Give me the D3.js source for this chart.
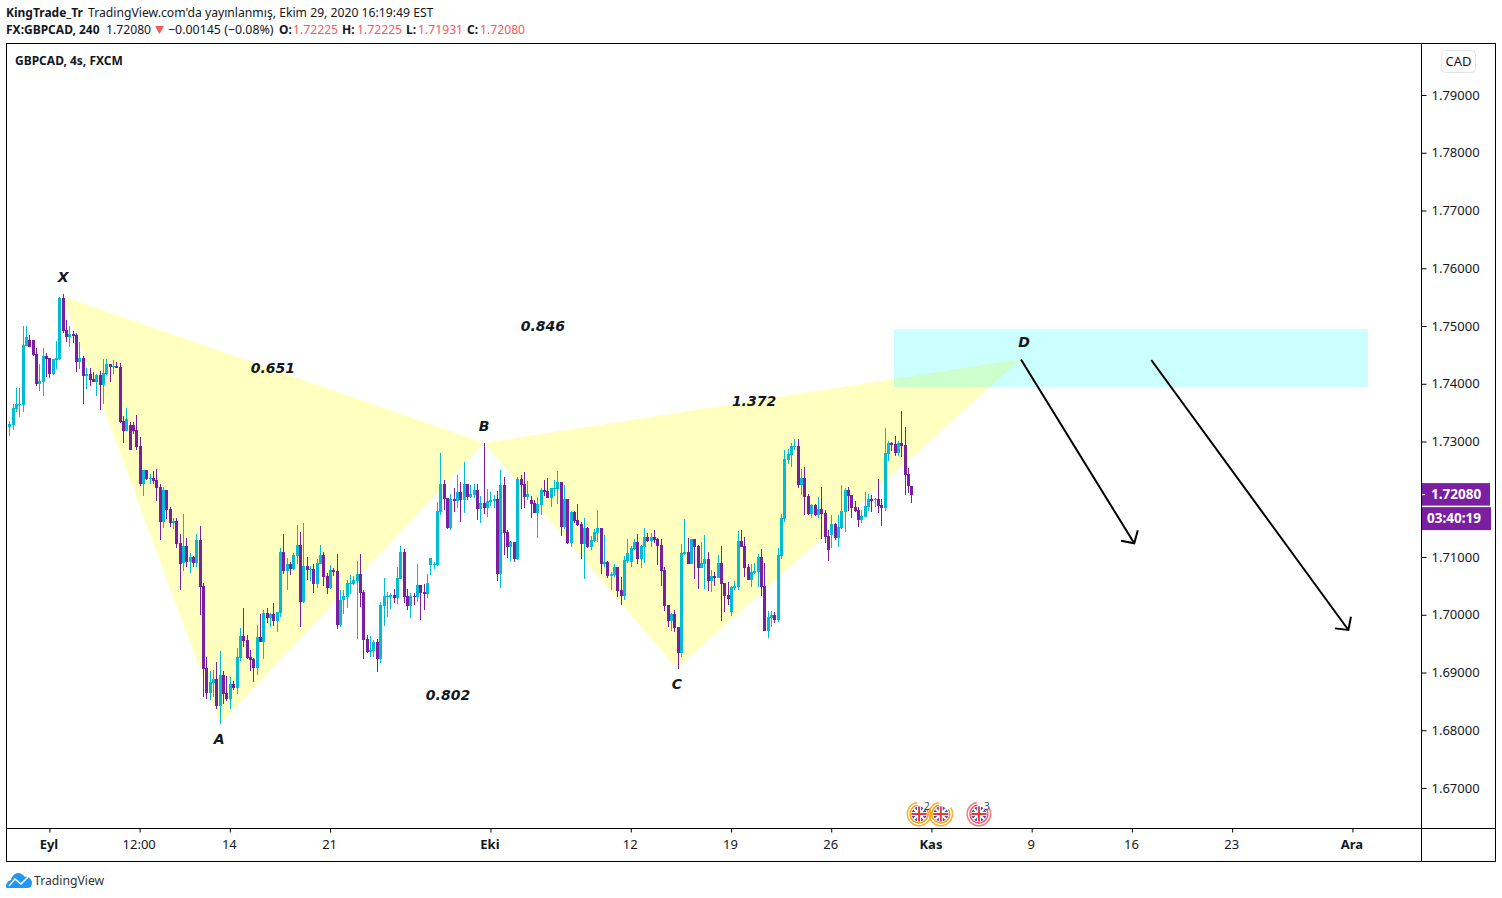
<!DOCTYPE html>
<html>
<head>
<meta charset="utf-8">
<title>GBPCAD</title>
<script src="https://cdn.jsdelivr.net/npm/d3@7"></script>
<style>
body { margin: 0; background: #fff; }
text { font-family: "Noto Sans", sans-serif; fill: #131722; }
.axis text { font-size: 13px; }
.axis path, .axis line { stroke: #000; }
.note { font-family: "DejaVu Sans", sans-serif; font-weight: bold; font-style: italic; font-size: 14px; text-anchor: middle; dominant-baseline: central; }
</style>
</head>
<body>
<svg id="chart" width="1502" height="898"></svg>
<script>
const opens = [
1.7325,1.7329,1.7356,1.7363,1.7363,1.7465,1.7476,1.7476,1.7452,1.7400,
1.7403,1.7448,1.7445,1.7417,1.7441,1.7443,1.7548,1.7493,1.7481,1.7486,
1.7484,1.7438,1.7445,1.7413,1.7417,1.7408,1.7403,1.7415,1.7398,1.7417,
1.7434,1.7429,1.7431,1.7429,1.7336,1.7318,1.7329,1.7329,1.7320,1.7292,
1.7227,1.7251,1.7235,1.7237,1.7233,1.7221,1.7161,1.7216,1.7183,1.7159,
1.7162,1.7124,1.7090,1.7119,1.7091,1.7100,1.7090,1.7130,1.7050,1.6908,
1.6865,1.6882,1.6889,1.6842,1.6896,1.6865,1.6854,1.6880,1.6873,1.6925,
1.6963,1.6956,1.6927,1.6923,1.6908,1.6962,1.6953,1.7003,1.6994,1.7001,
1.6989,1.7003,1.7109,1.7076,1.7088,1.7079,1.7102,1.7121,1.7022,1.7085,
1.7078,1.7079,1.7053,1.7088,1.7104,1.7067,1.7046,1.7078,1.7076,1.6982,
1.7026,1.7031,1.7053,1.7053,1.7059,1.7071,1.7039,1.6958,1.6936,1.6937,
1.6953,1.6924,1.7015,1.7031,1.7031,1.7034,1.7029,1.7062,1.7109,1.7033,
1.7015,1.7033,1.7031,1.7052,1.7040,1.7036,1.7086,1.7086,1.7086,1.7178,
1.7226,1.7202,1.7150,1.7200,1.7197,1.7213,1.7199,1.7226,1.7204,1.7207,
1.7216,1.7183,1.7194,1.7185,1.7195,1.7197,1.7200,1.7071,1.7225,1.7143,
1.7117,1.7126,1.7097,1.7235,1.7226,1.7204,1.7199,1.7194,1.7176,1.7190,
1.7216,1.7214,1.7202,1.7218,1.7218,1.7230,1.7152,1.7200,1.7124,1.7178,
1.7164,1.7157,1.7123,1.7150,1.7117,1.7128,1.7142,1.7150,1.7088,1.7091,
1.7067,1.7069,1.7083,1.7043,1.7033,1.7093,1.7091,1.7114,1.7126,1.7097,
1.7117,1.7135,1.7128,1.7135,1.7131,1.7121,1.7078,1.7017,1.6989,1.7001,
1.6979,1.6934,1.7105,1.7109,1.7088,1.7131,1.7119,1.7081,1.7088,1.7097,
1.7059,1.7067,1.7064,1.7090,1.7055,1.7034,1.7005,1.7046,1.7048,1.7128,
1.7119,1.7083,1.7060,1.7072,1.7074,1.7100,1.7050,1.6972,1.6995,1.7000,
1.6991,1.7102,1.7166,1.7268,1.7277,1.7291,1.7292,1.7225,1.7237,1.7206,
1.7175,1.7190,1.7173,1.7183,1.7176,1.7136,1.7138,1.7157,1.7133,1.7150,
1.7178,1.7216,1.7207,1.7187,1.7181,1.7164,1.7169,1.7187,1.7200,1.7199,
1.7200,1.7190,1.7185,1.7278,1.7297,1.7296,1.7280,1.7297,1.7294,1.7244,1.72225
];
const highs = [
1.7335,1.7365,1.7393,1.7393,1.7500,1.7500,1.7484,1.7476,1.7462,1.7434,
1.7462,1.7453,1.7445,1.7443,1.7474,1.7550,1.7555,1.7510,1.7500,1.7491,
1.7488,1.7472,1.7448,1.7427,1.7427,1.7420,1.7417,1.7422,1.7443,1.7443,
1.7434,1.7441,1.7438,1.7436,1.7344,1.7358,1.7334,1.7334,1.7346,1.7308,
1.7251,1.7251,1.7244,1.7249,1.7252,1.7226,1.7221,1.7216,1.7187,1.7168,
1.7168,1.7140,1.7175,1.7133,1.7107,1.7102,1.7140,1.7154,1.7055,1.6927,
1.6903,1.6905,1.6918,1.6937,1.6903,1.6894,1.6892,1.6885,1.6943,1.6977,
1.7012,1.6965,1.6939,1.6925,1.6982,1.7001,1.7008,1.7012,1.7003,1.7020,
1.7005,1.7116,1.7140,1.7098,1.7091,1.7107,1.7155,1.7143,1.7159,1.7100,
1.7085,1.7088,1.7097,1.7121,1.7109,1.7072,1.7086,1.7081,1.7105,1.7043,
1.7043,1.7060,1.7069,1.7067,1.7093,1.7105,1.7043,1.6965,1.6963,1.6956,
1.6958,1.7022,1.7064,1.7040,1.7038,1.7045,1.7083,1.7119,1.7114,1.7045,
1.7038,1.7038,1.7088,1.7052,1.7053,1.7071,1.7098,1.7091,1.7195,1.7280,
1.7233,1.7202,1.7209,1.7220,1.7242,1.7230,1.7265,1.7226,1.7225,1.7226,
1.7226,1.7206,1.7297,1.7218,1.7213,1.7207,1.7214,1.7251,1.7239,1.7147,
1.7128,1.7126,1.7239,1.7242,1.7247,1.7232,1.7206,1.7199,1.7204,1.7220,
1.7233,1.7237,1.7220,1.7233,1.7249,1.7230,1.7225,1.7200,1.7180,1.7180,
1.7192,1.7161,1.7168,1.7152,1.7136,1.7149,1.7181,1.7150,1.7138,1.7093,
1.7074,1.7088,1.7083,1.7065,1.7102,1.7131,1.7119,1.7131,1.7140,1.7121,
1.7150,1.7142,1.7142,1.7147,1.7133,1.7131,1.7083,1.7017,1.7003,1.7008,
1.6979,1.7123,1.7166,1.7133,1.7131,1.7131,1.7121,1.7126,1.7138,1.7109,
1.7078,1.7074,1.7104,1.7119,1.7055,1.7057,1.7050,1.7059,1.7145,1.7147,
1.7135,1.7088,1.7088,1.7090,1.7105,1.7114,1.7090,1.7007,1.7007,1.7005,
1.7116,1.7175,1.7285,1.7287,1.7297,1.7304,1.7304,1.7252,1.7256,1.7209,
1.7192,1.7192,1.7204,1.7221,1.7181,1.7147,1.7173,1.7159,1.7173,1.7225,
1.7220,1.7221,1.7207,1.7197,1.7187,1.7181,1.7213,1.7209,1.7207,1.7202,
1.7235,1.7200,1.7323,1.7301,1.7299,1.7310,1.7301,1.7353,1.7325,1.7254,1.72225
];
const lows = [
1.7310,1.7320,1.7351,1.7343,1.7351,1.7465,1.7463,1.7448,1.7396,1.7388,
1.7379,1.7412,1.7410,1.7415,1.7426,1.7441,1.7488,1.7472,1.7464,1.7470,
1.7420,1.7426,1.7365,1.7391,1.7396,1.7403,1.7379,1.7355,1.7365,1.7415,
1.7403,1.7417,1.7427,1.7332,1.7297,1.7318,1.7285,1.7313,1.7285,1.7223,
1.7206,1.7233,1.7227,1.7227,1.7197,1.7130,1.7150,1.7166,1.7152,1.7149,
1.7116,1.7043,1.7076,1.7083,1.7072,1.7083,1.7083,1.7000,1.6858,1.6854,
1.6853,1.6858,1.6837,1.6811,1.6846,1.6851,1.6837,1.6870,1.6863,1.6920,
1.6944,1.6923,1.6903,1.6884,1.6896,1.6953,1.6923,1.6986,1.6979,1.6981,
1.6970,1.6996,1.7071,1.7043,1.7069,1.7078,1.7088,1.6979,1.7020,1.7060,
1.7058,1.7038,1.7046,1.7088,1.7050,1.7036,1.7045,1.7067,1.6975,1.6979,
1.7001,1.7012,1.7036,1.7052,1.6958,1.7013,1.6923,1.6934,1.6927,1.6927,
1.6901,1.6917,1.6981,1.6996,1.7010,1.7020,1.7019,1.7062,1.7020,1.7008,
1.6995,1.7017,1.7022,1.6991,1.7008,1.7029,1.7069,1.7079,1.7085,1.7173,
1.7181,1.7149,1.7147,1.7178,1.7185,1.7161,1.7176,1.7199,1.7202,1.7202,
1.7164,1.7159,1.7175,1.7169,1.7188,1.7185,1.7059,1.7046,1.7104,1.7098,
1.7093,1.7091,1.7095,1.7183,1.7185,1.7199,1.7168,1.7176,1.7133,1.7173,
1.7206,1.7202,1.7187,1.7206,1.7192,1.7136,1.7149,1.7123,1.7117,1.7159,
1.7154,1.7097,1.7062,1.7116,1.7112,1.7126,1.7126,1.7071,1.7083,1.7064,
1.7043,1.7065,1.7031,1.7017,1.7026,1.7090,1.7083,1.7112,1.7088,1.7081,
1.7090,1.7126,1.7117,1.7124,1.7086,1.7050,1.7007,1.6979,1.6972,1.6970,
1.6906,1.6927,1.7104,1.7088,1.7088,1.7062,1.7045,1.7081,1.7045,1.7041,
1.7039,1.7050,1.7064,1.6989,1.7005,1.7017,1.6998,1.7043,1.7043,1.7117,
1.7065,1.7060,1.7048,1.7071,1.7048,1.7033,1.6972,1.6960,1.6979,1.6986,
1.6988,1.7097,1.7161,1.7261,1.7256,1.7285,1.7220,1.7207,1.7173,1.7173,
1.7168,1.7171,1.7168,1.7131,1.7124,1.7093,1.7116,1.7130,1.7117,1.7149,
1.7143,1.7180,1.7168,1.7178,1.7152,1.7159,1.7169,1.7180,1.7178,1.7187,
1.7176,1.7154,1.7180,1.7266,1.7284,1.7275,1.7275,1.7273,1.7207,1.7211,1.71931
];
const closes = [
1.7330,1.7358,1.7365,1.7365,1.7467,1.7481,1.7464,1.7450,1.7400,1.7405,
1.7448,1.7443,1.7417,1.7443,1.7445,1.7548,1.7491,1.7481,1.7486,1.7483,
1.7438,1.7445,1.7413,1.7417,1.7407,1.7403,1.7415,1.7398,1.7419,1.7434,
1.7429,1.7431,1.7428,1.7334,1.7318,1.7339,1.7285,1.7318,1.7291,1.7227,
1.7251,1.7235,1.7237,1.7232,1.7220,1.7161,1.7216,1.7181,1.7159,1.7162,
1.7123,1.7088,1.7119,1.7091,1.7100,1.7090,1.7130,1.7048,1.6906,1.6865,
1.6884,1.6889,1.6842,1.6896,1.6863,1.6854,1.6880,1.6873,1.6927,1.6963,
1.6955,1.6925,1.6922,1.6908,1.6962,1.6953,1.7003,1.6994,1.7001,1.6989,
1.7005,1.7109,1.7076,1.7088,1.7079,1.7104,1.7121,1.7022,1.7085,1.7078,
1.7079,1.7053,1.7090,1.7104,1.7065,1.7046,1.7078,1.7074,1.6982,1.7026,
1.7033,1.7055,1.7055,1.7060,1.7071,1.7038,1.6956,1.6936,1.6939,1.6953,
1.6924,1.7017,1.7033,1.7033,1.7034,1.7029,1.7064,1.7109,1.7031,1.7015,
1.7033,1.7031,1.7052,1.7038,1.7036,1.7055,1.7098,1.7088,1.7180,1.7226,
1.7200,1.7150,1.7200,1.7197,1.7213,1.7199,1.7226,1.7204,1.7209,1.7216,
1.7183,1.7194,1.7185,1.7197,1.7199,1.7200,1.7071,1.7225,1.7142,1.7117,
1.7126,1.7097,1.7235,1.7225,1.7204,1.7209,1.7192,1.7176,1.7192,1.7216,
1.7213,1.7202,1.7220,1.7220,1.7230,1.7152,1.7200,1.7124,1.7178,1.7162,
1.7155,1.7123,1.7150,1.7117,1.7130,1.7143,1.7150,1.7088,1.7091,1.7067,
1.7071,1.7083,1.7041,1.7033,1.7095,1.7107,1.7116,1.7126,1.7097,1.7119,
1.7135,1.7128,1.7135,1.7130,1.7119,1.7076,1.7015,1.6989,1.7001,1.6977,
1.6934,1.7107,1.7109,1.7088,1.7131,1.7117,1.7081,1.7090,1.7097,1.7059,
1.7067,1.7064,1.7090,1.7053,1.7033,1.7027,1.7048,1.7050,1.7128,1.7117,
1.7081,1.7060,1.7074,1.7076,1.7100,1.7048,1.6972,1.6996,1.7000,1.6991,
1.7104,1.7168,1.7270,1.7278,1.7292,1.7292,1.7225,1.7237,1.7204,1.7175,
1.7190,1.7173,1.7183,1.7175,1.7135,1.7112,1.7157,1.7133,1.7152,1.7180,
1.7216,1.7206,1.7185,1.7180,1.7164,1.7171,1.7188,1.7200,1.7197,1.7200,
1.7188,1.7185,1.7280,1.7297,1.7294,1.7280,1.7297,1.7292,1.7242,1.7223,1.72080
];

// time axis, bar number -> label
const timeTicks = [12, 39, 66, 96, 144, 186, 216, 246, 276, 306, 336, 366, 402];
const timeLabels = ["Eyl", "12:00", "14", "21", "Eki", "12", "19", "26", "Kas", "9", "16", "23", "Ara"];
const boldLabels = ["Eyl", "Eki", "Kas", "Ara"];
const priceTicks = [1.79, 1.78, 1.77, 1.76, 1.75, 1.74, 1.73, 1.71, 1.70, 1.69, 1.68, 1.67];

// XABCD pattern points [bar, price]
const pointX = [15.8, 1.7552], pointA = [63.1, 1.6811], pointB = [142.1, 1.72974], pointC = [199.8, 1.69069], pointD = [302.8, 1.74429];
const pointLabels = [["X", 16.1, 1.75848], ["A", 62.8, 1.67849], ["B", 142.1, 1.73268], ["C", 199.8, 1.688], ["D", 303.7, 1.74723],
    ["0.651", 78.9, 1.74273], ["0.846", 159.7, 1.75], ["0.802", 131.3, 1.6861], ["1.372", 222.9, 1.73701]];
const zoneBars = [264.8, 406.7], zonePrices = [1.74944, 1.73944];
const arrows = [[[302.8, 1.7442], [336.7, 1.71237]], [[341.8, 1.74411], [400.8, 1.69736]]];
const earnings = [[272.3, 2, "#ff9800"], [278.8, 0, "#ff9800"], [290.2, 3, "#f7525f"]];

const cyan = "#00bcd4", purple = "#7b1fa2";
const paneL = 6.5, paneR = 1421.5, paneT = 43.5, paneB = 828.5, frameR = 1495.5, frameB = 861.5;

const xScale = d3.scaleLinear().domain([0, 400]).range([9.33, 1345.73]);
const yScale = d3.scaleLinear().domain([1.79, 1.67]).range([95, 788]);

let svg = d3.select("#chart");
let pt = (p) => [xScale(p[0]), yScale(p[1])];

// pattern + zone
svg.selectAll("polygon.pattern").data([[pointX, pointA, pointB], [pointB, pointC, pointD]]).enter()
    .append("polygon")
    .attr("points", (d) => d.map(pt).join(" "))
    .attr("fill", "#ffff00").attr("fill-opacity", 0.25);

svg.append("rect")
    .attr("x", xScale(zoneBars[0])).attr("y", yScale(zonePrices[0]))
    .attr("width", xScale(zoneBars[1]) - xScale(zoneBars[0]))
    .attr("height", yScale(zonePrices[1]) - yScale(zonePrices[0]))
    .attr("fill", "#00ffff").attr("fill-opacity", 0.2);

// candles
let bars = d3.range(opens.length);
let barColor = (i) => closes[i] >= opens[i] ? cyan : purple;
let barX = (i) => Math.round(xScale(i));

svg.append("g").selectAll("rect").data(bars).enter().append("rect")
    .attr("x", (i) => barX(i))
    .attr("width", 1)
    .attr("y", (i) => yScale(highs[i]))
    .attr("height", (i) => yScale(lows[i]) - yScale(highs[i]))
    .attr("fill", barColor)
    .attr("shape-rendering", "crispEdges");

svg.append("g").selectAll("rect").data(bars).enter().append("rect")
    .attr("x", (i) => barX(i) - 1)
    .attr("width", 3)
    .attr("y", (i) => yScale(Math.max(opens[i], closes[i])))
    .attr("height", (i) => Math.max(1, Math.abs(yScale(opens[i]) - yScale(closes[i]))))
    .attr("fill", barColor)
    .attr("shape-rendering", "crispEdges");

// arrows
let arrowG = svg.append("g").attr("fill", "none").attr("stroke", "#000").attr("stroke-width", 2);
arrows.forEach((a) => {
    let s = pt(a[0]), t = pt(a[1]);
    let ang = Math.atan2(s[1] - t[1], s[0] - t[0]);
    let wing = (da) => [t[0] + 13.5 * Math.cos(ang + da), t[1] + 13.5 * Math.sin(ang + da)];
    arrowG.append("path").attr("d", d3.line()([s, t]));
    arrowG.append("path").attr("d", d3.line()([wing(0.82), t, wing(-0.82)]));
});

// pattern labels
svg.append("g").selectAll("text").data(pointLabels).enter().append("text")
    .attr("class", "note")
    .attr("x", (d) => xScale(d[1]))
    .attr("y", (d) => yScale(d[2]))
    .text((d) => d[0]);

// earnings marks
let markY = 814;
let ring = d3.arc().startAngle(1.0).endAngle(6.1);
earnings.forEach((m) => {
    let g = svg.append("g").attr("transform", "translate(" + xScale(m[0]) + "," + markY + ")");
    g.append("path").attr("d", ring({innerRadius: 11, outerRadius: 12.5})).attr("fill", m[2]).attr("fill-opacity", 0.8);
    g.append("path").attr("d", ring({innerRadius: 8.3, outerRadius: 9.6})).attr("fill", m[2]);
    g.append("circle").attr("r", 7.5).attr("fill", "#3f51b5");
    g.append("path").attr("d", "M-5.3-5.3L5.3 5.3M5.3-5.3L-5.3 5.3").attr("stroke", "#fff").attr("stroke-width", 2);
    g.append("path").attr("d", "M-7.5 0H7.5M0-7.5V7.5").attr("stroke", "#fff").attr("stroke-width", 4);
    g.append("path").attr("d", "M-7.5 0H7.5M0-7.5V7.5").attr("stroke", "#e53935").attr("stroke-width", 2);
    if (m[1]) {
        g.append("text").attr("x", 5).attr("y", -4).attr("font-size", 10).style("fill", "#444").text(m[1]);
    }
});

// frame
svg.append("rect").attr("x", paneL).attr("y", paneT)
    .attr("width", frameR - paneL).attr("height", frameB - paneT)
    .attr("fill", "none").attr("stroke", "#000");
svg.append("path").attr("d", "M" + paneL + " " + paneB + "H" + frameR + "M" + paneR + " " + paneT + "V" + frameB)
    .attr("fill", "none").attr("stroke", "#000");

// axes
let timeAxis = d3.axisBottom(xScale).tickValues(timeTicks).tickSize(4).tickPadding(7)
    .tickFormat((d, i) => timeLabels[i]);
let gx = svg.append("g").attr("class", "axis").attr("transform", "translate(0," + paneB + ")").call(timeAxis);
gx.select(".domain").remove();
gx.selectAll("text").attr("dx", -1).style("font-weight", (d, i) => boldLabels.includes(timeLabels[i]) ? "bold" : "normal");

let priceAxis = d3.axisRight(yScale).tickValues(priceTicks).tickSize(5).tickPadding(5).tickFormat(d3.format(".5f"));
let gy = svg.append("g").attr("class", "axis").attr("transform", "translate(" + paneR + ",0)").call(priceAxis);
gy.select(".domain").remove();

// CAD button
svg.append("rect").attr("x", 1441.5).attr("y", 50.5).attr("width", 34).attr("height", 22).attr("rx", 4)
    .attr("fill", "#fff").attr("stroke", "#e0e3eb");
svg.append("text").attr("x", 1458.5).attr("y", 66).attr("text-anchor", "middle").attr("font-size", 13).text("CAD");

// last price + countdown
const lastPrice = closes[closes.length - 1];
let py = yScale(lastPrice);
svg.append("rect").attr("x", 1422).attr("y", py - 11.5).attr("width", 68).attr("height", 22.5).attr("fill", purple);
svg.append("rect").attr("x", 1422).attr("y", py + 12.5).attr("width", 69).attr("height", 23).attr("fill", purple);
svg.append("line").attr("x1", 1422).attr("x2", 1425).attr("y1", py).attr("y2", py).attr("stroke", "#fff");
svg.append("text").attr("x", 1431).attr("y", py + 4.5).attr("font-size", 13.5).attr("font-weight", "bold")
    .style("fill", "#fff").text(d3.format(".5f")(lastPrice));
svg.append("text").attr("x", 1427).attr("y", py + 28.5).attr("font-size", 13.5).attr("font-weight", "bold")
    .style("fill", "#fff").text("03:40:19");

// header
let red = "#f55a5a";
let headTexts = [
    ["KingTrade_Tr", 6, 17, "bold", null, 12],
    ["TradingView.com'da yayınlanmış, Ekim 29, 2020 16:19:49 EST", 88, 17, "normal", null, 12.2],
    ["FX:GBPCAD, 240", 6, 34, "bold", null, 12],
    ["1.72080", 106, 34, "normal", null, 12.2],
    ["\u22120.00145 (\u22120.08%)", 168, 34, "normal", null, 12.4],
    ["O:", 279, 34, "bold", null, 12], ["1.72225", 293, 34, "normal", red, 12.2],
    ["H:", 342, 34, "bold", null, 12], ["1.72225", 357, 34, "normal", red, 12.2],
    ["L:", 406, 34, "bold", null, 12], ["1.71931", 418, 34, "normal", red, 12.2],
    ["C:", 467, 34, "bold", null, 12], ["1.72080", 480, 34, "normal", red, 12.2],
    ["GBPCAD, 4s, FXCM", 15, 65, "bold", null, 12]
];
svg.append("g").selectAll("text").data(headTexts).enter().append("text")
    .attr("x", (d) => d[1]).attr("y", (d) => d[2])
    .attr("font-size", (d) => d[5])
    .attr("font-weight", (d) => d[3])
    .style("fill", (d) => d[4] || "#131722")
    .text((d) => d[0]);
svg.append("polygon").attr("points", "155,26 164,26 159.5,34").attr("fill", red);

// logo
svg.append("path")
    .attr("d", "M6 887C6 883 8 881 11 880C12 876 15 873 18 873C21 873 23 875 25 877C28 876 31 878 32 882C32 885 31 888 28 888H9C7 888 6 888 6 887Z")
    .attr("fill", "#2196f3");
svg.append("path").attr("d", "M9 886L15 879L21 884L28 877").attr("fill", "none").attr("stroke", "#fff").attr("stroke-width", 1.6);
svg.append("text").attr("x", 34).attr("y", 885).attr("font-size", 12.2).style("fill", "#333").text("TradingView");
</script>
</body>
</html>
